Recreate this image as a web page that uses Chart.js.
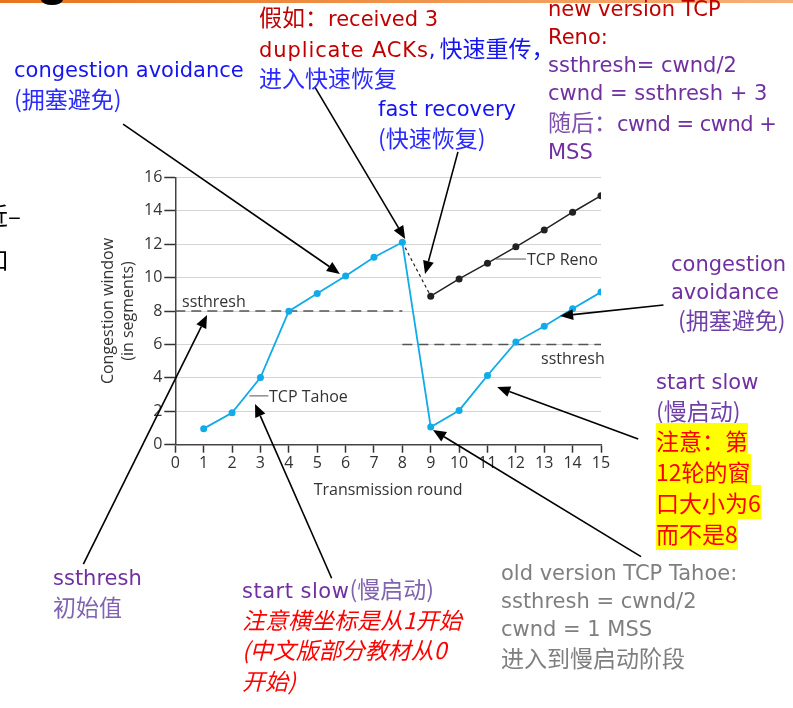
<!DOCTYPE html>
<html><head><meta charset="utf-8">
<script src="https://cdn.jsdelivr.net/npm/chart.js@4"></script>
<style>
html,body{margin:0;padding:0;background:#fff;}
#wrap{position:relative;width:793px;height:708px;overflow:hidden;background:#fff;}
canvas{position:absolute;left:0;top:0;}
.t{position:absolute;white-space:nowrap;font-family:"DejaVu Sans","Noto Sans CJK SC",sans-serif;font-size:21px;line-height:27.7px;}
.z{font-family:"Noto Sans CJK SC",sans-serif;font-size:23px;}
.c{position:absolute;white-space:nowrap;font-family:"Open Sans",sans-serif;font-size:16px;color:#333;line-height:20px;}
.hl{background:#ffff00;color:#ff0000;}
.bar{position:absolute;left:0;top:0;width:793px;height:3px;background:linear-gradient(to right,#e8741c,#f6b07a);}
.blob{position:absolute;left:41px;top:-6px;width:22px;height:11px;background:#000;border-radius:50%;}
</style></head>
<body>
<div id="wrap">
<canvas id="c" width="793" height="708"></canvas>
<div class="bar"></div>
<div class="blob"></div>
<div class="t z" style="left:-16px;top:202px;font-size:24px;line-height:26px;color:#000;">近–</div>
<div class="t z" style="left:-15px;top:246px;font-size:24px;line-height:26px;color:#000;">口</div>

<div class="t" style="left:14px;top:57px;color:#1414f0;">congestion avoidance<br><span class="z" style="color:#2a2aff;">(拥塞避免)</span></div>

<div class="t" style="left:259px;top:3px;color:#c00000;"><span class="z">假如：</span>received 3<br><span style="letter-spacing:0.9px;">duplicate ACKs</span><span style="color:#1414f0;">,<span class="z" style="margin-left:4px;">快速重传，</span></span><br><span class="z" style="color:#2a2aff;">进入快速恢复</span></div>

<div class="t" style="left:378px;top:96px;color:#1414f0;">fast recovery<br><span class="z" style="color:#2a2aff;">(快速恢复)</span></div>

<div class="t" style="left:548px;top:-5px;color:#c00000;line-height:28px;">new version TCP<br>Reno:<br><span style="color:#7030a0;">ssthresh= cwnd/2<br>cwnd = ssthresh + 3<br><span class="z" style="color:#8050b0;">随后：</span><span style="letter-spacing:-0.5px;">cwnd = cwnd +</span><br>MSS</span></div>

<div class="t" style="left:671px;top:251px;color:#7030a0;">congestion<br>avoidance<br><span class="z" style="margin-left:7px;color:#7040a8;">(拥塞避免)</span></div>

<div class="t" style="left:656px;top:369px;color:#7030a0;">start slow<br><span class="z" style="color:#7040a8;">(慢启动)</span><br><span class="z hl">注意：第</span><br><span class="z hl">12轮的窗</span><br><span class="z hl">口大小为6</span><br><span class="z hl">而不是8</span></div>

<div class="t" style="left:53px;top:565px;color:#7030a0;">ssthresh<br><span class="z" style="color:#8064b0;">初始值</span></div>

<div class="t" style="left:242px;top:575px;color:#7030a0;"><span style="letter-spacing:0.5px;">start slow</span><span class="z" style="color:#8064b0;">(慢启动)</span><br><span class="z" style="color:#ff0000;font-style:italic;">注意横坐标是从1开始<br>(中文版部分教材从0<br>开始)</span></div>

<div class="t" style="left:501px;top:559px;color:#7f7f7f;line-height:28px;">old version TCP Tahoe:<br>ssthresh = cwnd/2<br>cwnd = 1 MSS<br><span class="z">进入到慢启动阶段</span></div>

<div class="c" style="left:182px;top:291px;">ssthresh</div>
<div class="c" style="left:541px;top:348px;">ssthresh</div>
<div class="c" style="left:269px;top:386px;">TCP Tahoe</div>
<div class="c" style="left:527px;top:249px;">TCP Reno</div>
</div>
<script>
// ---- data ----
const rounds = [1,2,3,4,5,6,7,8,9,10,11,12,13,14,15];
const tahoeCwnd = [0.96,1.91,4.02,7.99,9.05,10.1,11.22,12.11,1.06,2.05,4.14,6.14,7.09,8.13,9.13];
const renoRounds = [8,9,10,11,12,13,14,15];
const renoCwnd = [12.11,8.89,9.92,10.86,11.84,12.85,13.91,14.9];
const ssthreshRounds1 = [0,8];
const ssthreshValues1 = [8,8];
const ssthreshRounds2 = [8,15];
const ssthreshValues2 = [6,6];
const xTicks = [0,1,2,3,4,5,6,7,8,9,10,11,12,13,14,15];
const yTicks = [0,2,4,6,8,10,12,14,16];
// annotation arrows: [tail, head] in data units
const arrowTails = [[-1.84,19.18],[4.92,21.4],[9.96,17.52],[-3.24,-7.14],[5.51,-7.99],[16.41,-6.7],[16.31,0.34],[17.2,8.36]];
const arrowHeads = [[5.8,10.22],[8.1,12.31],[8.8,10.22],[1.12,7.76],[2.81,2.44],[9.08,0.88],[11.34,3.45],[13.56,7.7]];
const leaderStarts = [[2.61,2.92],[11.3,11.11]];
const leaderEnds = [[3.28,2.92],[12.36,11.11]];

const pts = (xs, ys) => xs.map((v,i)=>({x:v,y:ys[i]}));
const TAHOE = '#12abea';

const annoPlugin = {
  id:'anno',
  afterDraw(chart){
    const {ctx, scales:{x,y}} = chart;
    const P = a => [x.getPixelForValue(a[0]), y.getPixelForValue(a[1])];
    ctx.save();
    ctx.strokeStyle='#555'; ctx.lineWidth=1;
    leaderStarts.forEach((s,i)=>{const a=P(s), b=P(leaderEnds[i]); ctx.beginPath(); ctx.moveTo(a[0],a[1]); ctx.lineTo(b[0],b[1]); ctx.stroke();});
    ctx.strokeStyle='#000'; ctx.fillStyle='#000'; ctx.lineWidth=1.6;
    arrowTails.forEach((t,i)=>{
      const a=P(t), b=P(arrowHeads[i]);
      const ang=Math.atan2(b[1]-a[1], b[0]-a[0]);
      const L=13, W=5.5;
      const bx=b[0]-L*Math.cos(ang), by=b[1]-L*Math.sin(ang);
      ctx.beginPath(); ctx.moveTo(a[0],a[1]); ctx.lineTo(bx,by); ctx.stroke();
      ctx.beginPath(); ctx.moveTo(b[0],b[1]);
      ctx.lineTo(bx+W*Math.sin(ang), by-W*Math.cos(ang));
      ctx.lineTo(bx-W*Math.sin(ang), by+W*Math.cos(ang));
      ctx.closePath(); ctx.fill();
    });
    ctx.restore();
  }
};

new Chart(document.getElementById('c'), {
  type:'line',
  data:{
    datasets:[
      {data:pts(rounds,tahoeCwnd), borderColor:TAHOE, backgroundColor:TAHOE, borderWidth:1.8, pointRadius:3.5, pointBorderWidth:0, tension:0, order:1},
      {data:pts(renoRounds,renoCwnd), borderColor:'#222', backgroundColor:'#222', borderWidth:1.5,
       pointRadius:renoRounds.map((r,i)=>i===0?0:3.5), pointBorderWidth:0, tension:0, order:2,
       segment:{borderDash:c=>c.p0DataIndex===0?[3,3]:undefined, borderWidth:c=>c.p0DataIndex===0?1.2:1.5}},
      {data:pts(ssthreshRounds1,ssthreshValues1), borderColor:'#555', borderWidth:1.5, borderDash:[10,6], pointRadius:0, order:3},
      {data:pts(ssthreshRounds2,ssthreshValues2), borderColor:'#555', borderWidth:1.5, borderDash:[10,6], pointRadius:0, order:3}
    ]
  },
  options:{
    responsive:false, animation:false, devicePixelRatio:1,
    layout:{padding:{left:98, top:177.3, right:192, bottom:203.3}},
    plugins:{legend:{display:false}, tooltip:{enabled:false}},
    scales:{
      x:{type:'linear', min:0, max:15,
        afterFit:s=>{s.height=60;},
        afterBuildTicks:s=>{s.ticks = xTicks.map(v=>({value:v}));},
        grid:{drawOnChartArea:false, tickLength:8, tickColor:'#333', tickWidth:1.5},
        border:{color:'#444', width:1.5},
        ticks:{color:'#333', font:{family:'Open Sans', size:16}, padding:1, maxRotation:0, autoSkip:false},
        title:{display:true, text:'Transmission round', color:'#333', font:{family:'Open Sans', size:16, lineHeight:1.25}, padding:{top:0,bottom:4}}
      },
      y:{type:'linear', min:0, max:16,
        afterFit:s=>{s.width=77.3;},
        afterBuildTicks:s=>{s.ticks = yTicks.map(v=>({value:v}));},
        grid:{color:'#d4d4d4', lineWidth:1, tickLength:11, tickColor:'#333', tickWidth:1.5},
        border:{color:'#444', width:1.5},
        ticks:{color:'#333', font:{family:'Open Sans', size:16}, padding:2},
        title:{display:true, text:['Congestion window','(in segments)'], color:'#333', font:{family:'Open Sans', size:16, lineHeight:1.25}, padding:{top:0,bottom:0}}
      }
    }
  },
  plugins:[annoPlugin]
});
</script>
</body></html>
